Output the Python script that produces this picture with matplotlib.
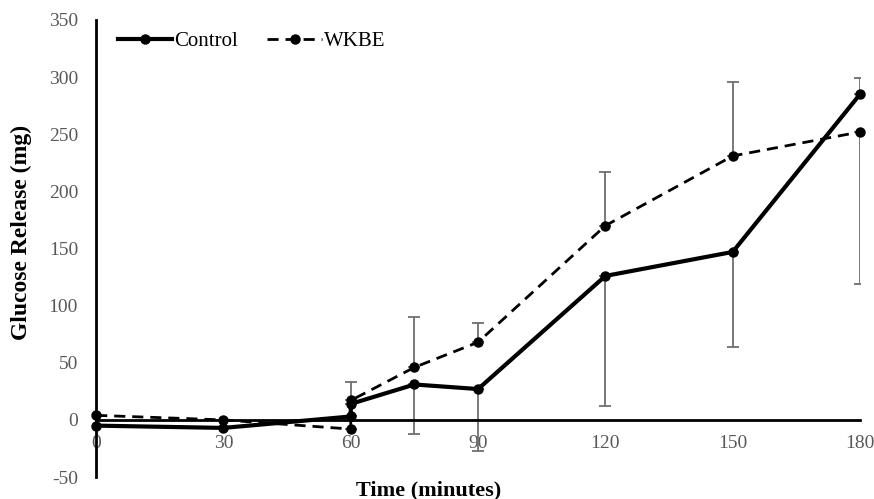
import matplotlib
matplotlib.use("Agg")
import matplotlib.pyplot as plt

# time points (60 appears twice in the source chart)
time = [0, 30, 60, 60, 75, 90, 120, 150, 180]
control = [-5, -7, 3, 14, 31, 27, 126, 147, 285]
wkbe = [4, 0, -8, 17, 46, 68, 170, 231, 252]

# one-sided error bars
control_lo = [0, 0, 0, 0, 43, 54, 114, 83, 0]
control_hi = [0, 0, 0, 0, 0, 0, 0, 0, 14]
wkbe_lo = [0, 0, 0, 0, 0, 0, 0, 0, 133]
wkbe_hi = [0, 0, 0, 16, 44, 17, 47, 65, 0]

xticks = [0, 30, 60, 90, 120, 150, 180]
yticks = [-50, 0, 50, 100, 150, 200, 250, 300, 350]

plt.rcParams['font.family'] = ['Liberation Serif', 'DejaVu Serif']
plt.rcParams['axes.unicode_minus'] = False

fig = plt.figure(figsize=(8.74, 4.99), dpi=100)
ax = fig.add_axes([0.11, 0.044, 0.874, 0.916])

# error bars first so lines sit on top
ax.errorbar(time, control, yerr=[control_lo, control_hi], fmt='none',
            ecolor='#6e6e6e', elinewidth=1.3, capsize=4, capthick=1.3, zorder=2)
ax.errorbar(time, wkbe, yerr=[wkbe_lo, wkbe_hi], fmt='none',
            ecolor='#6e6e6e', elinewidth=1.3, capsize=4, capthick=1.3, zorder=2)

ax.plot(time, control, color='black', lw=3, marker='o', ms=6.5,
        label='Control', zorder=4, clip_on=False)
ax.plot(time, wkbe, color='black', lw=2, ls=(0, (4, 2.5)), marker='o', ms=6.5,
        label='WKBE', zorder=3, clip_on=False)

ax.set_xlim(0, 180)
ax.set_ylim(-50, 350)
ax.set_xticks(xticks)
ax.set_yticks(yticks)

ax.spines['top'].set_visible(False)
ax.spines['right'].set_visible(False)
ax.spines['bottom'].set_position(('data', 0))
ax.spines['left'].set_linewidth(2)
ax.spines['bottom'].set_linewidth(2)

ax.tick_params(axis='both', length=0, labelsize=14, labelcolor='#595959')
ax.tick_params(axis='y', pad=13)
ax.tick_params(axis='x', pad=11)

fig.text(0.024, 0.535, 'Glucose Release (mg)', fontsize=17, fontweight='bold',
         rotation=90, ha='center', va='center')
fig.text(0.49, 0.018, 'Time (minutes)', fontsize=16, fontweight='bold',
         ha='center', va='center')

ax.legend(loc='upper left', ncol=2, frameon=False, fontsize=15,
          bbox_to_anchor=(0.029, 0.975), borderaxespad=0, borderpad=0,
          handlelength=2.6, columnspacing=1.4, handletextpad=0.1)

fig.savefig('out.png', dpi=100)
